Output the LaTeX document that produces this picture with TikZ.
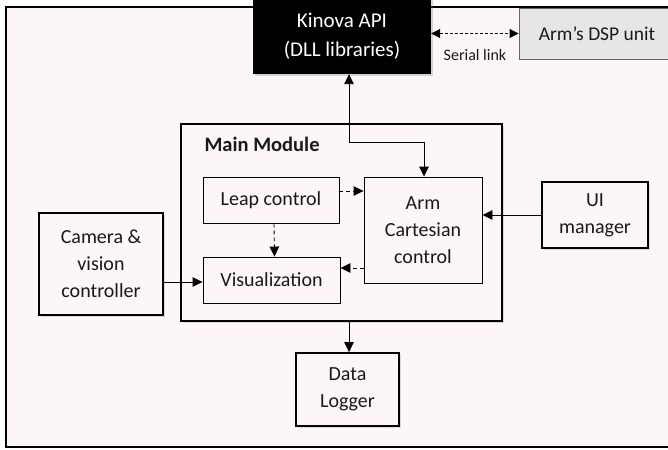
\documentclass[tikz,border=0pt]{standalone}
\usepackage{fontspec}
\setmainfont{Carlito}
\usepackage{tikz}
\usetikzlibrary{arrows.meta,positioning,calc,shadows}
\definecolor{bgpink}{RGB}{252,245,250}
\definecolor{dspgrey}{RGB}{230,230,230}

\begin{document}
\begin{tikzpicture}[
    x=1pt, y=-1pt,
    txt/.style={font=\fontsize{20}{27}\selectfont, text=black!90, align=center},
    inbox/.style={draw, line width=0.9pt, fill=bgpink, txt, inner sep=0pt},
    outbox/.style={draw, line width=1.8pt, fill=bgpink, txt, inner sep=0pt,
        drop shadow={shadow xshift=2pt, shadow yshift=-2pt, opacity=0.25}},
    conn/.style={line width=0.9pt, -{Triangle[length=10pt,width=9.5pt]}},
    dconn/.style={conn, dash pattern=on 4pt off 3pt},
]
\useasboundingbox (0,0) rectangle (668,449);
\clip (0,0) rectangle (668,449);
\fill[white] (0,0) rectangle (668,449);

% Frame
\draw[line width=1.8pt, fill=bgpink] (6,7) rectangle (690,447);

% Top row
\node[fill=black, txt, text=white, font=\fontsize{21}{29}\selectfont, minimum width=178pt, minimum height=76pt, inner sep=0pt,
    drop shadow={shadow xshift=2pt, shadow yshift=-2pt, opacity=0.3}] (kinova) at (342,36) {Kinova API\\(DLL libraries)};
\node[draw=black!60, line width=0.9pt, fill=dspgrey, txt, font=\fontsize{19.5}{27}\selectfont, minimum width=156pt, minimum height=51pt, inner sep=0pt] (dsp) at (597,33.5) {Arm’s DSP unit};
\draw[<->, >={Triangle[length=9pt,width=9pt]}, line width=0.9pt, dash pattern=on 3pt off 2pt] (kinova.east |- dsp) -- (dsp.west);
\node[txt, font=\fontsize{16}{20}\selectfont, anchor=center] (serial) at (475,55) {Serial link};

% Main module
\node[draw, line width=2.4pt, minimum width=321pt, minimum height=197pt, inner sep=0pt,
    drop shadow={shadow xshift=2pt, shadow yshift=-2pt, opacity=0.25}, fill=bgpink] (main) at (341.5,222.5) {};
\node[txt, font=\bfseries\fontsize{20.5}{27}\selectfont, anchor=west] (title) at (201,144) {Main Module};

\node[inbox, minimum width=136pt, minimum height=46pt] (leap) at (271,200) {Leap control};
\node[inbox, minimum width=137pt, minimum height=46pt] (vis) at (271.5,280) {Visualization};
\node[inbox, minimum width=118pt, minimum height=106pt] (arm) at (423,230) {Arm\\Cartesian\\control};

% Outer modules
\node[outbox, minimum width=124pt, minimum height=102pt] (camera) at (101,264) {Camera \&\\vision\\controller};
\node[outbox, minimum width=106pt, minimum height=66pt] (ui) at (595,215) {UI\\manager};
\node[outbox, minimum width=103pt, minimum height=73pt] (logger) at (347.5,389.5) {Data\\Logger};

% Connections
\coordinate (b1) at (349,142);
\coordinate (b2) at (424,142);
\draw[conn, {Triangle[length=10pt,width=9.5pt]}-{Triangle[length=10pt,width=9.5pt]}] (kinova.south -| b1) -- (b1) -- (b2) -- (arm.north -| b2);
\draw[dconn] ([yshift=9pt]leap.east) -- ([yshift=9pt]leap.east -| arm.west);
\draw[dconn] ([xshift=3pt]leap.south) -- ([xshift=3pt]vis.north);
\draw[dconn] ([yshift=12pt]vis.east -| arm.west) -- ([yshift=12pt]vis.east);
\draw[conn] ([yshift=-2pt]vis.west -| camera.east) -- ([yshift=-2pt]vis.west);
\draw[conn] (ui.west) -- (ui.west -| arm.east);
\draw[conn] ([xshift=1.5pt]logger.north |- main.south) -- ([xshift=1.5pt]logger.north);

\end{tikzpicture}
\end{document}
